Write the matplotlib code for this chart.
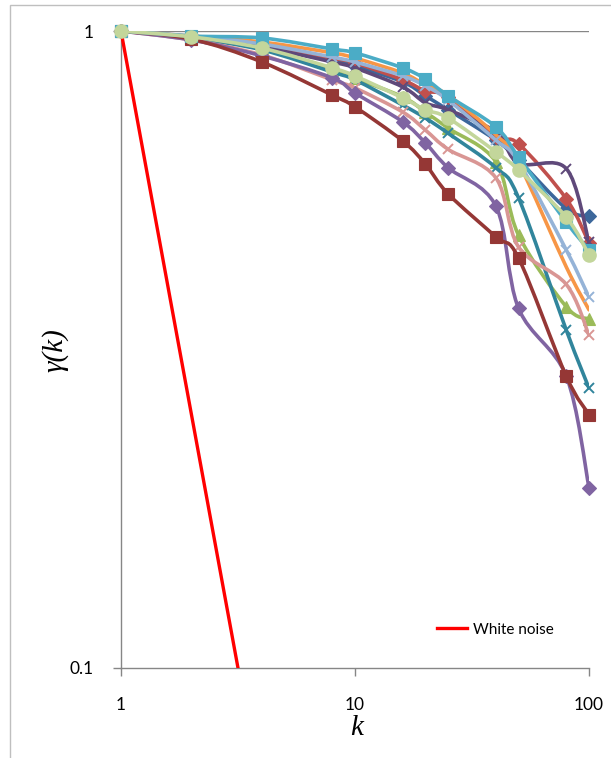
import numpy as np
import matplotlib
matplotlib.use("Agg")
import matplotlib.pyplot as plt
from matplotlib.path import Path
from matplotlib.patches import PathPatch, Rectangle

# ---------------- data ----------------
k = [1, 2, 4, 8, 10, 16, 20, 25, 40, 50, 80, 100]

dark_blue   = [1, 0.979, 0.947, 0.900, 0.881, 0.832, 0.791, 0.752, 0.674, 0.627, 0.526, 0.512]
red_diam    = [1, 0.979, 0.951, 0.907, 0.891, 0.838, 0.805, 0.788, 0.682, 0.665, 0.545, 0.465]
green_tri   = [1, 0.979, 0.940, 0.870, 0.843, 0.788, 0.746, 0.704, 0.623, 0.478, 0.369, 0.353]
dark_purple = [1, 0.979, 0.944, 0.894, 0.875, 0.817, 0.771, 0.752, 0.694, 0.620, 0.608, 0.466]
teal_x      = [1, 0.975, 0.934, 0.862, 0.838, 0.765, 0.730, 0.691, 0.610, 0.547, 0.339, 0.275]
pink_x      = [1, 0.968, 0.917, 0.838, 0.814, 0.746, 0.699, 0.652, 0.588, 0.458, 0.400, 0.333]
lblue_x     = [1, 0.982, 0.954, 0.910, 0.894, 0.850, 0.820, 0.779, 0.674, 0.623, 0.453, 0.382]
orange      = [1, 0.982, 0.961, 0.924, 0.907, 0.859, 0.823, 0.793, 0.687, 0.621, 0.426, 0.365]
purple_diam = [1, 0.968, 0.914, 0.844, 0.799, 0.720, 0.667, 0.610, 0.531, 0.367, 0.287, 0.192]
dark_red_sq = [1, 0.971, 0.894, 0.793, 0.760, 0.672, 0.618, 0.555, 0.475, 0.440, 0.287, 0.250]
aqua_sq     = [1, 0.982, 0.975, 0.937, 0.924, 0.875, 0.841, 0.791, 0.707, 0.634, 0.501, 0.453]
lgreen_circ = [1, 0.979, 0.940, 0.875, 0.850, 0.785, 0.752, 0.730, 0.646, 0.605, 0.510, 0.445]

white_noise_k = [1, 2, 4, 10]
white_noise   = [1, 0.25, 0.0625, 0.01]

series = [
    # values, color, marker, markersize
    (dark_blue,   "#3C679B", "D", 7.5),
    (red_diam,    "#C0504D", "D", 7.5),
    (green_tri,   "#9BBB59", "^", 8.5),
    (dark_purple, "#5F497A", "x", 7.5),
    (teal_x,      "#31859C", "x", 7.5),
    (orange,      "#F79646", None, 0),
    (pink_x,      "#D99694", "x", 7.5),
    (lblue_x,     "#95B3D7", "x", 7.5),
    (purple_diam, "#8064A2", "D", 7.5),
    (dark_red_sq, "#953735", "s", 8.5),
    (aqua_sq,     "#4BACC6", "s", 8.5),
]

# ---------------- figure ----------------
W, H = 611, 758
fig = plt.figure(figsize=(W / 100, H / 100), dpi=100)
x0, x1, y0, y1 = 121, 589, 31, 668
ax = fig.add_axes([x0 / W, 1 - y1 / H, (x1 - x0) / W, (y1 - y0) / H])
ax.set_xscale("log")
ax.set_yscale("log")
ax.set_xlim(1, 100)
ax.set_ylim(0.1, 1)


def smooth_path(xs, ys):
    """Excel-like smoothed line (Catmull-Rom Bezier) in log-log space."""
    lx = np.log10(np.asarray(xs, float))
    ly = np.log10(np.asarray(ys, float))
    P = np.column_stack([lx, ly])
    n = len(P)
    verts = [P[0]]
    codes = [Path.MOVETO]
    for i in range(n - 1):
        p0 = P[i - 1] if i > 0 else P[i]
        p1 = P[i]
        p2 = P[i + 1]
        p3 = P[i + 2] if i + 2 < n else P[i + 1]
        c1 = p1 + (p2 - p0) / 6.0
        c2 = p2 - (p3 - p1) / 6.0
        verts += [c1, c2, p2]
        codes += [Path.CURVE4] * 3
    verts = 10 ** np.array(verts)
    return Path(verts, codes)


LW = 2.6
z = 2
for vals, col, mk, ms in series:
    patch = PathPatch(smooth_path(k, vals), facecolor="none", edgecolor=col,
                      lw=LW, zorder=z, capstyle="round", joinstyle="round")
    ax.add_patch(patch)
    if mk is not None:
        if mk == "x":
            ax.plot(k, vals, ls="none", marker="x", ms=ms, mew=1.4, color=col,
                    zorder=z + 0.5, clip_on=False)
        else:
            ax.plot(k, vals, ls="none", marker=mk, ms=ms, mfc=col, mec=col,
                    mew=0.8, zorder=z + 0.5, clip_on=False)
    z += 1

# white noise
wn_line, = ax.plot(white_noise_k, white_noise, color="#FF0000", lw=2.4,
                   zorder=z, label="White noise")
z += 1

# light green circles on top
ax.add_patch(PathPatch(smooth_path(k, lgreen_circ), facecolor="none",
                       edgecolor="#C3D69B", lw=LW, zorder=z))
ax.plot(k, lgreen_circ, ls="none", marker="o", ms=9.5, mfc="#C3D69B",
        mec="#C3D69B", zorder=z + 0.5, clip_on=False)

# ---------------- axes styling ----------------
grey = "#868686"
for s in ["top", "right"]:
    ax.spines[s].set_visible(False)
for s in ["left", "bottom"]:
    ax.spines[s].set_color(grey)
    ax.spines[s].set_linewidth(1.0)
ax.axhline(1, color=grey, lw=1.0, zorder=1)

ax.set_xticks([1, 10, 100])
ax.set_xticklabels(["1", "10", "100"])
ax.set_yticks([0.1, 1])
ax.set_yticklabels(["0.1", "1"])
ax.minorticks_off()
ax.tick_params(axis="both", which="major", direction="out", length=6,
               color=grey, width=1.0, labelsize=12.5, labelcolor="#000000")
ax.tick_params(axis="x", pad=15)
ax.tick_params(axis="y", pad=14)
for lab in ax.get_xticklabels() + ax.get_yticklabels():
    lab.set_family(["Lato", "DejaVu Sans"])

fig.text(357 / W, 1 - 728 / H, "k", fontsize=21, style="italic",
         family=["Liberation Serif", "DejaVu Serif"], ha="center", va="center")
fig.text(55 / W, 1 - 350 / H, "γ(k)", fontsize=21, style="italic",
         family=["Liberation Serif", "DejaVu Serif"], ha="center", va="center",
         rotation=90)

leg = ax.legend(handles=[wn_line], loc="center right",
                bbox_to_anchor=(0.94, 0.06), frameon=False,
                handlelength=2.0, handletextpad=0.35, borderpad=0,
                prop={"family": ["Lato", "DejaVu Sans"], "size": 11})

# outer frame
fig.patches.append(Rectangle((10 / W, -0.05), 1.2, 1 - 5 / H + 0.05,
                             transform=fig.transFigure, fill=False,
                             edgecolor="#BFBFBF", lw=1.0))

fig.savefig("out.png", dpi=100)
